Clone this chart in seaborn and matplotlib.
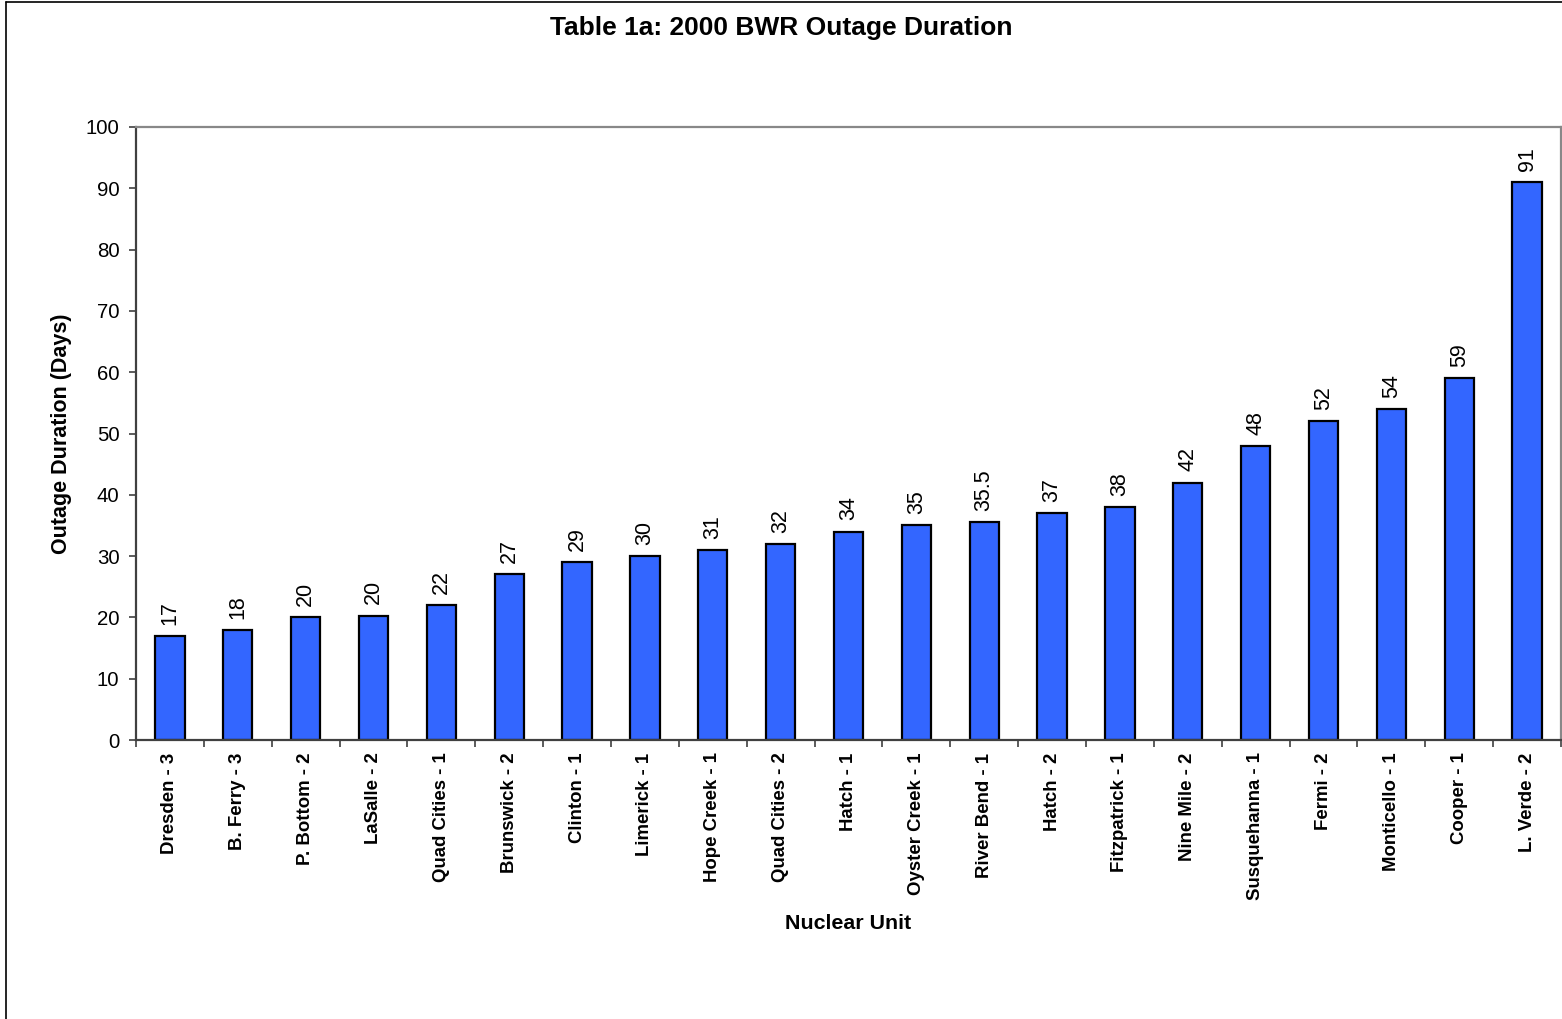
import matplotlib
matplotlib.use("Agg")
import matplotlib.pyplot as plt
import seaborn as sns
import pandas as pd
from matplotlib.lines import Line2D

units = ["Dresden - 3", "B. Ferry - 3", "P. Bottom - 2", "LaSalle - 2", "Quad Cities - 1",
         "Brunswick - 2", "Clinton - 1", "Limerick - 1", "Hope Creek - 1", "Quad Cities - 2",
         "Hatch - 1", "Oyster Creek - 1", "River Bend - 1", "Hatch - 2", "Fitzpatrick - 1",
         "Nine Mile - 2", "Susquehanna - 1", "Fermi - 2", "Monticello - 1", "Cooper - 1",
         "L. Verde - 2"]
durations = [17, 18, 20, 20.3, 22, 27, 29, 30, 31, 32, 34, 35, 35.5, 37, 38, 42, 48, 52, 54, 59, 91]
value_labels = ["17", "18", "20", "20", "22", "27", "29", "30", "31", "32", "34", "35", "35.5",
                "37", "38", "42", "48", "52", "54", "59", "91"]
yticks = [0, 10, 20, 30, 40, 50, 60, 70, 80, 90, 100]

sns.set_theme(style="white")
plt.rcParams['font.family'] = ['Liberation Sans', 'DejaVu Sans']
plt.rcParams['text.color'] = 'black'
plt.rcParams['axes.labelcolor'] = 'black'
plt.rcParams['xtick.color'] = 'black'
plt.rcParams['ytick.color'] = 'black'

df = pd.DataFrame({"unit": units, "days": durations})

W, H = 1562, 1019
fig = plt.figure(figsize=(W / 100, H / 100), dpi=100)
ax = fig.add_axes([136 / W, 1 - 740 / H, (1561 - 136) / W, (740 - 127) / H])

sns.barplot(data=df, x="unit", y="days", color="#3366FF", saturation=1,
            edgecolor="black", linewidth=1.6, width=0.43, ax=ax)

ax.bar_label(ax.containers[0], labels=value_labels, rotation=90, padding=8,
             fontsize=15.5, color="black")

ax.set_xlim(-0.5, len(units) - 0.5)
ax.set_ylim(0, 100)
ax.set_yticks(yticks)
ax.set_yticklabels([str(v) for v in yticks])

# major ticks carry labels, minor ticks sit at category boundaries
ax.set_xticks(range(len(units)))
ax.set_xticklabels(units, rotation=90, fontweight="bold", fontsize=13.4)
ax.set_xticks([i - 0.5 for i in range(len(units) + 1)], minor=True)
ax.tick_params(axis="x", which="major", length=0, pad=9, labelcolor="black")
ax.tick_params(axis="x", which="minor", length=5, width=1.2, color="#404040", bottom=True)
ax.tick_params(axis="y", which="major", length=5, width=1.2, color="#404040", left=True,
               labelsize=14.7, pad=7, labelcolor="black")

for side in ["left", "bottom"]:
    ax.spines[side].set_color("#404040")
    ax.spines[side].set_linewidth(1.6)
for side in ["top", "right"]:
    ax.spines[side].set_color("#888888")
    ax.spines[side].set_linewidth(1.6)
    ax.spines[side].set_visible(True)

ax.set_xlabel("Nuclear Unit", fontsize=15.4, fontweight="bold")
ax.set_ylabel("Outage Duration (Days)", fontsize=15.5, fontweight="bold")
ax.xaxis.set_label_coords(0.5, -0.3)
ax.xaxis.label.set_va("center")
ax.yaxis.set_label_coords(-0.052, 0.5)
ax.yaxis.label.set_va("center")

fig.text(0.5, 1 - 28.5 / H, "Table 1a: 2000 BWR Outage Duration", ha="center", va="center",
         fontsize=19, fontweight="bold", color="black")

# outer chart-area border (left and top edges visible in the reference)
fig.add_artist(Line2D([5.5 / W, 5.5 / W], [0, 1 - 2 / H], transform=fig.transFigure,
                      color="black", linewidth=1.2))
fig.add_artist(Line2D([5.5 / W, 1], [1 - 2 / H, 1 - 2 / H], transform=fig.transFigure,
                      color="black", linewidth=1.2))

fig.savefig("out.png", dpi=100, facecolor="white")
